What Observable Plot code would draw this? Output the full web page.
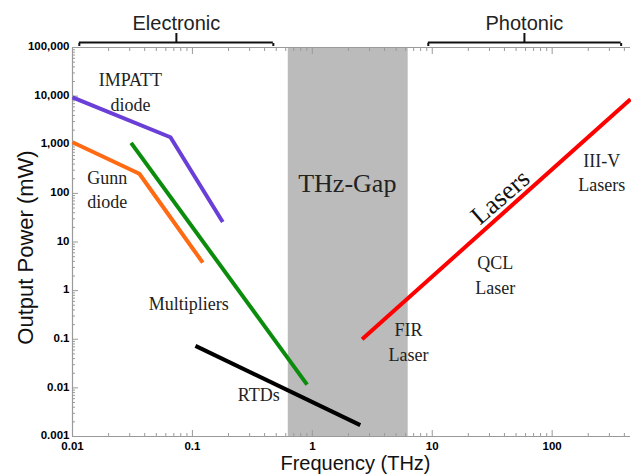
<!DOCTYPE html>
<html><head><meta charset="utf-8">
<script src="https://cdn.jsdelivr.net/npm/d3@7"></script>
<script src="https://cdn.jsdelivr.net/npm/@observablehq/plot@0.6"></script>
<style>body{margin:0;background:#fff}</style>
</head><body><div id="chart"></div>
<script>
// Series (frequency in THz, output power in mW)
const impattFreq = [0.01, 0.0656, 0.179];
const impattPower = [9440, 1425, 25.7];
const gunnFreq = [0.01, 0.0361, 0.122];
const gunnPower = [1125, 253, 3.76];
const multFreq = [0.0308, 0.904];
const multPower = [1094, 0.0117];
const rtdFreq = [0.106, 2.51];
const rtdPower = [0.073, 0.00171];
const laserFreq = [2.6, 450];
const laserPower = [0.1, 8630];

// THz gap band
const gapFreq = [0.63, 6.3];

// Axis ticks
const xTicks = [0.01, 0.1, 1, 10, 100];
const xTickLabels = ["0.01", "0.1", "1", "10", "100"];
const yTicks = [0.001, 0.01, 0.1, 1, 10, 100, 1000, 10000, 100000];
const yTickLabels = ["0.001", "0.01", "0.1", "1", "10", "100", "1,000", "10,000", "100,000"];
const xDomain = [0.01, 450];
const yDomain = [0.001, 100000];

// Top groups
const groups = ["Electronic", "Photonic"];
const groupStart = [0.0114, 9.27];
const groupEnd = [0.473, 376];
const groupCenter = [0.0735, 58.7];

// Annotations (data coordinates)
const noteText = ["IMPATT\ndiode", "Gunn\ndiode", "Multipliers", "RTDs", "III-V\nLasers", "QCL\nLaser", "FIR\nLaser"];
const noteFreq = [0.0304, 0.01945, 0.0931, 0.357, 259, 33.5, 6.35];
const notePower = [13060, 129, 0.583, 0.00767, 288, 2.26, 0.0931];

const toRows = (fs, ps) => fs.map((f, i) => ({f, p: ps[i]}));
const series = [
  {name: "IMPATT", rows: toRows(impattFreq, impattPower), color: "#6a3fd8"},
  {name: "Gunn", rows: toRows(gunnFreq, gunnPower), color: "#ff6a13"},
  {name: "Multipliers", rows: toRows(multFreq, multPower), color: "#0c8c0c"},
  {name: "RTDs", rows: toRows(rtdFreq, rtdPower), color: "#000000"},
  {name: "Lasers", rows: toRows(laserFreq, laserPower), color: "#ff0000"}
];

const isDecade = t => Math.abs(Math.log10(t) - Math.round(Math.log10(t))) < 1e-9;
const minorOf = (dom) => d3.scaleLog().domain(dom).ticks().filter(t => !isDecade(t));

const xMinor = minorOf(xDomain);
const yMinor = minorOf(yDomain);
const axisGray = "#9a9a9a";
const notes = noteText.map((t, i) => ({t, f: noteFreq[i], p: notePower[i]}));
const serif = "'Liberation Serif', 'Times New Roman', serif";

const chart = Plot.plot({
  width: 631,
  height: 475,
  marginLeft: 72,
  marginRight: 1,
  marginTop: 47,
  marginBottom: 39,
  style: {fontFamily: "'Liberation Sans', Arial, sans-serif", background: "#fff", color: "#000"},
  x: {type: "log", domain: xDomain},
  y: {type: "log", domain: yDomain},
  marks: [
    Plot.rect([gapFreq], {x1: d => d[0], x2: d => d[1], fill: "#bbbbbb"}),
    // axis lines
    Plot.ruleX([xDomain[0]], {stroke: axisGray, strokeWidth: 1.2}),
    Plot.ruleY([yDomain[0]], {stroke: axisGray, strokeWidth: 1.2}),
    Plot.ruleY([yDomain[1]], {stroke: axisGray, strokeWidth: 1.2}),
    // inward ticks
    Plot.axisY({anchor: "left", label: null, ticks: yTicks, tickSize: -6, tickFormat: () => "", stroke: axisGray}),
    Plot.axisY({anchor: "left", label: null, ticks: yMinor, tickSize: -3, tickFormat: () => "", stroke: axisGray}),
    Plot.axisX({anchor: "bottom", label: null, ticks: xTicks, tickSize: -6, tickFormat: () => "", stroke: axisGray}),
    Plot.axisX({anchor: "bottom", label: null, ticks: xMinor, tickSize: -3, tickFormat: () => "", stroke: axisGray}),
    Plot.axisX({anchor: "top", label: null, ticks: xTicks, tickSize: -6, tickFormat: () => "", stroke: axisGray}),
    Plot.axisX({anchor: "top", label: null, ticks: xMinor, tickSize: -3, tickFormat: () => "", stroke: axisGray}),
    // tick labels
    Plot.axisY({anchor: "left", label: null, ticks: yTicks, tickSize: 0, tickPadding: 3, dy: -1,
      tickFormat: d => yTickLabels[yTicks.indexOf(d)], fontWeight: "bold", fontSize: 11.5, fill: "#000"}),
    Plot.axisX({anchor: "bottom", label: null, ticks: xTicks, tickSize: 0, tickPadding: 5,
      tickFormat: d => xTickLabels[xTicks.indexOf(d)], fontWeight: "bold", fontSize: 11.5, fill: "#000"}),
    // series
    ...series.map(s => Plot.line(s.rows, {x: "f", y: "p", stroke: s.color, strokeWidth: 4, strokeLinecap: "butt"})),
    // annotations
    Plot.text(notes, {x: "f", y: "p", text: "t", fontFamily: serif, fontSize: 18, lineHeight: 1.38, fill: "#222"}),
    Plot.text(["THz-Gap"], {x: 1.957, y: 160, fontFamily: serif, fontSize: 26, fill: "#222"}),
    Plot.text(["Lasers"], {x: 36.9, y: 83.6, rotate: -41, fontFamily: serif, fontSize: 26, fill: "#111"}),
    // top group brackets
    Plot.ruleY(groups, {y: () => yDomain[1], x1: (d, i) => groupStart[i], x2: (d, i) => groupEnd[i], dy: -5, stroke: "#111", strokeWidth: 2}),
    Plot.axisX({anchor: "top", label: null, ticks: groupCenter, tickSize: 10, dy: -5, tickFormat: () => "", stroke: "#111", strokeWidth: 2}),
    Plot.axisX({anchor: "top", label: null, ticks: [...groupStart, ...groupEnd], tickSize: -3, dy: -5, tickFormat: () => "", stroke: "#111", strokeWidth: 2}),
    Plot.text(groups, {x: (d, i) => groupCenter[i], text: d => d, frameAnchor: "top", lineAnchor: "middle", dy: -23.5, fontSize: 20, fill: "#222"}),
    // axis titles
    Plot.text(["Output Power (mW)"], {text: d => d, frameAnchor: "left", textAnchor: "middle", lineAnchor: "middle", rotate: -90, dx: -47, dy: 5.5, fontSize: 22, fill: "#111"}),
    Plot.text(["Frequency (THz)"], {text: d => d, frameAnchor: "bottom", textAnchor: "middle", lineAnchor: "middle", dy: 27, dx: 4, fontSize: 20, fill: "#111"})
  ]
});
document.getElementById("chart").appendChild(chart);
</script>
</body></html>
